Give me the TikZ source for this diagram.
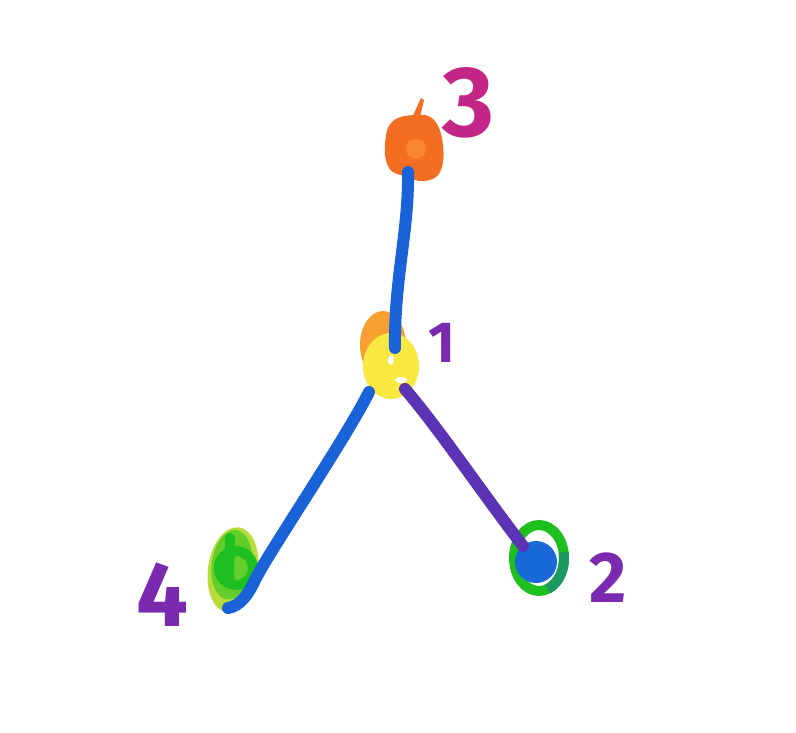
\documentclass[tikz,border=0pt]{standalone}
\usepackage{fontspec}
\newfontfamily\digitfont{Fira Sans}
\usetikzlibrary{calc}
\definecolor{edgeblue}{HTML}{1A62D8}
\definecolor{edgepurple}{HTML}{5A34B4}
\definecolor{lblpurple}{HTML}{7A2AAE}
\definecolor{lblmagenta}{HTML}{C42688}
\definecolor{blobor}{HTML}{F46E22}
\definecolor{bloborl}{HTML}{F7862E}
\definecolor{nodeyel}{HTML}{F8E840}
\definecolor{nodeor}{HTML}{F5A030}
\definecolor{nodegreen}{HTML}{1EC020}
\definecolor{nodeteal}{HTML}{1A9A60}
\definecolor{nodelime}{HTML}{B8DC3A}
\definecolor{nodeblue}{HTML}{1868D8}
\tikzset{
  edge/.style={line width=12pt, line cap=round, line join=round},
  lbl/.style={inner sep=0pt, font={\digitfont\bfseries\fontsize{#1}{#1}\selectfont}},
}
\begin{document}
\begin{tikzpicture}[x=1pt,y=-1pt]
\useasboundingbox[fill=white] (0,0) rectangle (796,732);
% ---- node 3 (orange blob)
\fill[blobor] plot[smooth cycle, tension=0.7] coordinates {(392,122)(415,115)(434,120)(443,145)(440,172)(424,181)(404,176)(389,168)(385,145)};
\fill[blobor] (411,120) -- (421,98) -- (424,100) -- (419,121) -- cycle;
\fill[bloborl] (416,149) circle[radius=10];
\coordinate (n3) at (408,172);
% ---- node 1 (yellow/orange)
\fill[nodeor] (383,345) ellipse[x radius=23, y radius=34];
\fill[nodeyel] (391,366) ellipse[x radius=28, y radius=33];
\fill[white] (391,360) ellipse[x radius=3, y radius=5];
\fill[white] (401,380) ellipse[x radius=6, y radius=3];
\coordinate (n1) at (395,348);
\coordinate (n1a) at (369,392);
\coordinate (n1b) at (405,389);
% ---- node 4 (green loop on lime)
\fill[nodelime, rotate around={-8:(233,570)}] (233,570) ellipse[x radius=25, y radius=43];
\fill[nodegreen!55!nodelime, rotate around={-8:(233,570)}] (231,565) ellipse[x radius=20, y radius=35];
\draw[nodegreen, line width=10pt] (236,568) circle[radius=17];
\draw[nodegreen, line width=10pt, line cap=round] (230,538) -- (229,583);
\coordinate (n4) at (228,608);
% ---- node 2 (green ring, blue centre)
\draw[nodegreen, line width=10pt] (539,558) ellipse[x radius=25, y radius=33];
\draw[nodeteal, line width=10pt] (539,558) ++(70:25 and 33) arc[start angle=70, end angle=-10, x radius=25, y radius=33];
\fill[nodeblue] (536,562) circle[radius=21];
\coordinate (n2) at (523,546);
% ---- edges
\draw[edge, edgeblue] (n3) .. controls (409,230) and (394,280) .. (n1);
\draw[edge, edgeblue] (n1a) .. controls (345,440) and (270,550) .. (255,580) .. controls (248,595) and (240,606) .. (n4);
\draw[edge, edgepurple] (n1b) .. controls (440,430) and (480,490) .. (n2);
% ---- labels
\node[lbl=100, text=lblmagenta] (l3) at (468,103) {3};
\node[lbl=58, text=lblpurple] (l1) at (442,343) {1};
\node[lbl=92, text=lblpurple] (l4) at (162,595) {4};
\node[lbl=72, text=lblpurple] (l2) at (608,578) {2};
\end{tikzpicture}
\end{document}
